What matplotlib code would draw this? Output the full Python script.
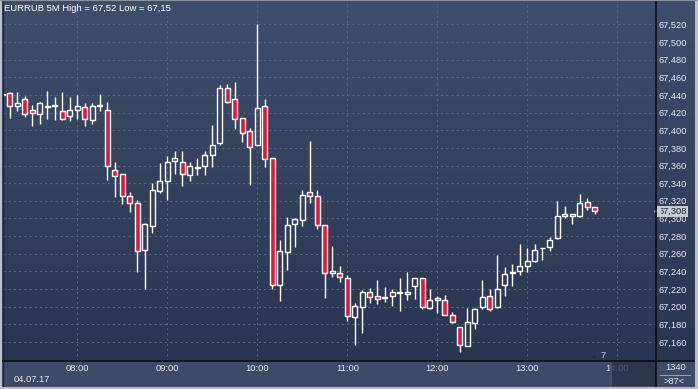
import numpy as np
import matplotlib
matplotlib.use("Agg")
import matplotlib.pyplot as plt
from matplotlib.patches import Rectangle
from matplotlib.lines import Line2D
from matplotlib.transforms import blended_transform_factory

plt.rcParams['font.family'] = ['Liberation Sans', 'DejaVu Sans']

# EURRUB 5 minute candles, first bar 07:10 (only half visible at the left edge)
opens = [67.440, 67.442, 67.427, 67.435, 67.423, 67.419, 67.426, 67.428, 67.422, 67.416,
         67.423, 67.426, 67.412, 67.429, 67.423, 67.355, 67.350, 67.325, 67.318, 67.264,
         67.291, 67.331, 67.342, 67.365, 67.364, 67.349, 67.357, 67.359, 67.372, 67.385,
         67.448, 67.435, 67.414, 67.399, 67.383, 67.427, 67.368, 67.224, 67.262, 67.294,
         67.298, 67.330, 67.326, 67.292, 67.238, 67.238, 67.233, 67.188, 67.200, 67.216,
         67.212, 67.210, 67.212, 67.215, 67.214, 67.223, 67.233, 67.198, 67.207, 67.208,
         67.190, 67.177, 67.155, 67.181, 67.199, 67.212, 67.199, 67.224, 67.238, 67.240,
         67.246, 67.252, 67.266, 67.268, 67.278, 67.303, 67.305, 67.303, 67.319, 67.313]
highs = [67.443, 67.443, 67.443, 67.439, 67.429, 67.432, 67.445, 67.438, 67.443, 67.438,
         67.440, 67.431, 67.431, 67.441, 67.432, 67.364, 67.350, 67.330, 67.321, 67.295,
         67.340, 67.363, 67.371, 67.377, 67.376, 67.364, 67.369, 67.377, 67.406, 67.451,
         67.453, 67.455, 67.414, 67.403, 67.520, 67.436, 67.368, 67.276, 67.302, 67.301,
         67.332, 67.388, 67.332, 67.292, 67.269, 67.246, 67.236, 67.204, 67.219, 67.221,
         67.230, 67.222, 67.220, 67.233, 67.239, 67.233, 67.233, 67.220, 67.212, 67.213,
         67.194, 67.177, 67.198, 67.198, 67.230, 67.220, 67.258, 67.245, 67.248, 67.271,
         67.266, 67.271, 67.267, 67.279, 67.320, 67.314, 67.305, 67.328, 67.323, 67.313]
lows = [67.438, 67.414, 67.422, 67.415, 67.405, 67.407, 67.413, 67.412, 67.412, 67.411,
        67.413, 67.405, 67.407, 67.422, 67.344, 67.324, 67.316, 67.307, 67.239, 67.220,
        67.284, 67.329, 67.321, 67.350, 67.337, 67.342, 67.349, 67.349, 67.358, 67.383,
        67.431, 67.401, 67.387, 67.338, 67.383, 67.358, 67.220, 67.206, 67.242, 67.268,
        67.291, 67.317, 67.288, 67.210, 67.234, 67.228, 67.184, 67.156, 67.170, 67.204,
        67.203, 67.205, 67.201, 67.195, 67.207, 67.209, 67.197, 67.197, 67.193, 67.190,
        67.181, 67.149, 67.155, 67.175, 67.197, 67.195, 67.198, 67.212, 67.223, 67.236,
        67.239, 67.251, 67.253, 67.263, 67.277, 67.300, 67.294, 67.302, 67.310, 67.305]
closes = [67.441, 67.428, 67.431, 67.418, 67.420, 67.431, 67.428, 67.429, 67.413, 67.423,
          67.427, 67.413, 67.428, 67.427, 67.359, 67.348, 67.326, 67.317, 67.263, 67.294,
          67.332, 67.343, 67.364, 67.368, 67.350, 67.360, 67.358, 67.372, 67.383, 67.448,
          67.432, 67.413, 67.397, 67.381, 67.425, 67.367, 67.225, 67.263, 67.293, 67.299,
          67.327, 67.325, 67.293, 67.238, 67.240, 67.234, 67.189, 67.201, 67.217, 67.211,
          67.209, 67.211, 67.216, 67.216, 67.217, 67.232, 67.199, 67.208, 67.210, 67.191,
          67.182, 67.157, 67.182, 67.197, 67.211, 67.197, 67.220, 67.237, 67.239, 67.246,
          67.252, 67.264, 67.267, 67.276, 67.303, 67.305, 67.303, 67.318, 67.313, 67.308]

time_ticks = [10, 22, 34, 46, 58, 70, 82]          # bar index of each full hour
time_labels = ["08:00", "09:00", "10:00", "11:00", "12:00", "13:00", "14:00"]
price_ticks = [67.16, 67.18, 67.20, 67.22, 67.24, 67.26, 67.28, 67.30, 67.32, 67.34,
               67.36, 67.38, 67.40, 67.42, 67.44, 67.46, 67.48, 67.50, 67.52]
title = "EURRUB 5M High = 67,52 Low = 67,15"
date_label = "04.07.17"

W, H = 698, 389
bg_top, bg_bottom = "#3f4e6b", "#2a3550"
strip = "#3e4b66"
txt = "#e4eaf4"
red = "#dc1a3c"


def fx(px):
    return px / W


def fy(py):
    return 1 - py / H


fig = plt.figure(figsize=(W / 100, H / 100), dpi=100, facecolor=strip)

# gradient behind plot + right price scale
bg = fig.add_axes([fx(3), fy(361), fx(692), 360 / H], zorder=0)
grad = np.linspace(0, 1, 256).reshape(-1, 1)
cmap = matplotlib.colors.LinearSegmentedColormap.from_list("bg", [bg_top, bg_bottom])
bg.imshow(grad, aspect="auto", cmap=cmap, extent=[0, 1, 0, 1], origin="upper")
bg.axis("off")

ax = fig.add_axes([fx(3), fy(361), fx(652.5), 360 / H], zorder=1)
ax.set_facecolor("none")

o = np.array(opens)
h = np.array(highs)
l = np.array(lows)
c = np.array(closes)
x = np.arange(len(o))
top = np.maximum(o, c)
bot = np.minimum(o, c)
down = c < o

ax.vlines(x, top, h, color="white", lw=1.0, zorder=3)
ax.vlines(x, l, bot, color="white", lw=1.0, zorder=3)
ax.bar(x[~down], np.maximum(top - bot, 0.0006)[~down], bottom=bot[~down], width=0.7,
       facecolor="none", edgecolor="white", linewidth=1.0, zorder=4)
ax.bar(x[down], np.maximum(top - bot, 0.0006)[down], bottom=bot[down], width=0.7,
       facecolor=red, edgecolor="white", linewidth=1.0, zorder=4)

ax.set_xlim(0.093, 87.09)
ax.set_ylim(67.1383, 67.5466)
ax.set_xticks(time_ticks)
ax.set_xticklabels(time_labels)
ax.set_yticks(price_ticks)
ax.set_yticklabels([f"{p:.3f}".replace(".", ",") for p in price_ticks])
ax.yaxis.tick_right()
ax.tick_params(axis="both", length=0, labelsize=6.7, colors=txt)
ax.tick_params(axis="y", pad=2.2)
ax.tick_params(axis="x", pad=2.2)
ax.grid(True, color="#5a6680", linestyle=(0, (2, 3)), lw=0.75, zorder=1)
for s in ax.spines.values():
    s.set_visible(False)

# current price tag
tr = blended_transform_factory(ax.transAxes, ax.transData)
ax.text(1 + 3 / 652.5, closes[-1], f"{closes[-1]:.3f}".replace(".", ","), transform=tr,
        ha="left", va="center", fontsize=6.7, color="#1c2333", clip_on=False, zorder=6,
        bbox=dict(boxstyle="square,pad=0.12", fc="#c6cad3", ec="none"))
ax.plot([1 + 1.5 / 652.5], [closes[-1]], marker="<", ms=4, color="#c6cad3",
        transform=tr, clip_on=False, zorder=6)

# title and other texts
fig.text(fx(4), fy(8.5), title, fontsize=6.8, color="white", va="center", ha="left")
fig.text(fx(14), fy(379.5), date_label, fontsize=6.7, color=txt, va="center", ha="left")
fig.text(fx(676), fy(367), "1340", fontsize=6.7, color=txt, va="center", ha="center")
fig.text(fx(674), fy(381.5), ">87<", fontsize=6.7, color=txt, va="center", ha="center")
fig.text(fx(603), fy(355.5), "7", fontsize=6.7, color="#b8d4f0", va="center", ha="center")
fig.text(fx(594), fy(357), "\u25b2", fontsize=4.5, color="#222b40", va="center", ha="center")

# darker block over the last part of the time scale
fig.patches.append(Rectangle((fx(611), fy(386)), fx(44.5), 25 / H, transform=fig.transFigure,
                             facecolor="#28324a", alpha=0.8, edgecolor="none", zorder=5))
fig.lines.append(Line2D([fx(611), fx(611)], [fy(386), fy(361)], transform=fig.transFigure,
                        color="#4a5268", lw=1.4, zorder=6))

# dividers and frame
fig.lines.append(Line2D([fx(660), fx(690)], [fy(374.5), fy(374.5)], transform=fig.transFigure,
                        color="#9aa6b8", lw=0.7, zorder=6))
fig.lines.append(Line2D([fx(3), fx(696)], [fy(361), fy(361)], transform=fig.transFigure,
                        color="#0c0f16", lw=1.2, zorder=6))
fig.lines.append(Line2D([fx(655.7), fx(655.7)], [fy(387), fy(0)], transform=fig.transFigure,
                        color="#0c0f16", lw=1.2, zorder=6))
fig.lines.append(Line2D([fx(2.6), fx(2.6)], [fy(387), fy(0)], transform=fig.transFigure,
                        color="#1a2030", lw=0.8, zorder=6))
frame = "#b9c0cc"
fig.patches.append(Rectangle((0, 0), fx(2), 1, transform=fig.transFigure, facecolor=frame,
                             edgecolor="none", zorder=7))
fig.patches.append(Rectangle((fx(695), 0), fx(3), 1, transform=fig.transFigure, facecolor=frame,
                             edgecolor="none", zorder=7))
fig.patches.append(Rectangle((0, 0), 1, 2.5 / H, transform=fig.transFigure, facecolor=frame,
                             edgecolor="none", zorder=7))
fig.patches.append(Rectangle((0, fy(0.8)), 1, 0.8 / H, transform=fig.transFigure,
                             facecolor="#8a92a0", edgecolor="none", zorder=7))

fig.savefig("out.png", dpi=100, facecolor=fig.get_facecolor())
